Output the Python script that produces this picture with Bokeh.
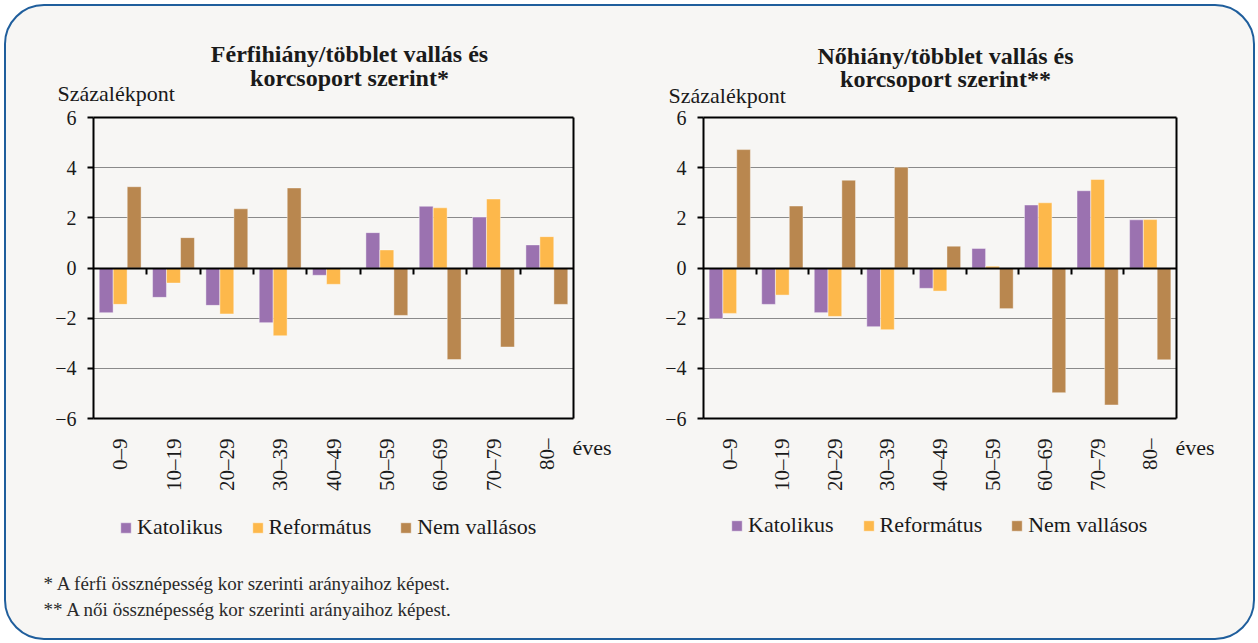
import math
from bokeh.plotting import figure
from bokeh.models import (Range1d, LinearAxis, FixedTicker, Label, Legend, LegendItem, Grid)
from bokeh.layouts import row
from bokeh.embed import file_html
from bokeh.resources import INLINE

# ---------------- data ----------------
categories = ["0–9", "10–19", "20–29", "30–39", "40–49", "50–59", "60–69", "70–79", "80–"]
series_names = ["Katolikus", "Református", "Nem vallásos"]

men_katolikus = [-1.78, -1.17, -1.49, -2.18, -0.29, 1.41, 2.46, 2.03, 0.92]
men_reformatus = [-1.45, -0.60, -1.83, -2.70, -0.65, 0.72, 2.40, 2.75, 1.25]
men_nem_vallasos = [3.24, 1.21, 2.36, 3.19, 0.0, -1.89, -3.65, -3.15, -1.45]

women_katolikus = [-2.02, -1.45, -1.78, -2.34, -0.81, 0.78, 2.51, 3.08, 1.92]
women_reformatus = [-1.81, -1.08, -1.93, -2.46, -0.92, 0.07, 2.60, 3.53, 1.93]
women_nem_vallasos = [4.72, 2.47, 3.50, 4.02, 0.87, -1.62, -4.97, -5.46, -3.66]

y_ticks = [-6, -4, -2, 0, 2, 4, 6]
y_tick_labels = ["−6", "−4", "−2", "0", "2", "4", "6"]
grid_ticks = [-4, -2, 2, 4]

titles_men = ["Férfihiány/többlet vallás és", "korcsoport szerint*"]
titles_women = ["Nőhiány/többlet vallás és", "korcsoport szerint**"]
y_unit = "Százalékpont"
x_unit = "éves"
footnotes = ["* A férfi össznépesség kor szerinti arányaihoz képest.",
             "** A női össznépesség kor szerinti arányaihoz képest."]

# ---------------- style ----------------
COLORS = ["#9b72b0", "#fdb84b", "#b9874f"]
BG = "#f7f6f4"
FONT = "Liberation Serif"
TXT = "#1a1a1a"

ORIGIN = 6      # page position of the figures' top-left corner (margin + border)
FIG_H = 632


def make_chart(series, titles, fig_x0, fig_w, box, title_pos, unit_pos,
               eves_pos, legend_pos, notes=None, notes_pos=None):
    fl, ft, fr, fb = box  # page pixel position of the plot box
    ncat = len(categories)
    ymin, ymax = y_ticks[0], y_ticks[-1]
    sx = (fr - fl) / ncat
    sy = (fb - ft) / (ymax - ymin)

    def d(px, py):
        return (px - fl) / sx, ymax - (py - ft) / sy

    x0, y_top = d(fig_x0, ORIGIN)
    x1, y_bot = d(fig_x0 + fig_w, ORIGIN + FIG_H)

    p = figure(width=fig_w, height=FIG_H, output_backend="svg", toolbar_location=None,
               x_range=Range1d(x0, x1), y_range=Range1d(y_bot, y_top),
               min_border=0, background_fill_color=None, border_fill_color=None,
               outline_line_color=None, x_axis_type=None, y_axis_type=None)

    # grid lines inside the plot box
    p.add_layout(Grid(dimension=1, ticker=FixedTicker(ticks=grid_ticks),
                      cross_bounds=(0, ncat), grid_line_color="#8a8a8a",
                      grid_line_width=1))
    # plot box edges
    p.add_layout(Grid(dimension=1, ticker=FixedTicker(ticks=[ymin, ymax]),
                      cross_bounds=(0, ncat), grid_line_color="black",
                      grid_line_width=2))
    p.add_layout(Grid(dimension=0, ticker=FixedTicker(ticks=[ncat]),
                      cross_bounds=(ymin, ymax), grid_line_color="black",
                      grid_line_width=2))

    # bars
    bw = 0.26
    offs = [-0.2625, 0.0, 0.2625]
    rends = []
    for vals, col, off in zip(series, COLORS, offs):
        xs = [i + 0.5 + off for i in range(ncat)]
        r = p.vbar(x=xs, top=vals, bottom=0, width=bw, fill_color=col,
                   line_color="#ffffff", line_alpha=0.5, line_width=0.8)
        rends.append(r)

    # y axis
    yax = LinearAxis(ticker=FixedTicker(ticks=y_ticks), fixed_location=0,
                     bounds=(ymin, ymax),
                     major_label_overrides={t: l for t, l in zip(y_ticks, y_tick_labels)})
    yax.axis_line_width = 2
    yax.axis_line_color = "black"
    yax.major_tick_line_width = 2
    yax.major_tick_out = 6
    yax.major_tick_in = 0
    yax.minor_tick_line_color = None
    yax.major_label_standoff = 11
    yax.major_label_text_font = FONT
    yax.major_label_text_font_size = "20px"
    yax.major_label_text_color = TXT
    p.add_layout(yax, "left")

    # category labels under the plot box
    xax = LinearAxis(ticker=FixedTicker(ticks=[i + 0.5 for i in range(ncat)]),
                     fixed_location=ymin,
                     major_label_overrides={i + 0.5: c for i, c in enumerate(categories)})
    xax.axis_line_color = None
    xax.major_tick_line_color = None
    xax.minor_tick_line_color = None
    xax.major_label_orientation = math.pi / 2
    xax.major_label_standoff = 14
    xax.major_label_text_font = FONT
    xax.major_label_text_font_size = "21px"
    xax.major_label_text_color = TXT
    p.add_layout(xax, "below")

    # zero line with category boundary ticks
    zax = LinearAxis(ticker=FixedTicker(ticks=list(range(1, ncat))), fixed_location=0,
                     bounds=(0, ncat))
    zax.axis_line_width = 2
    zax.axis_line_color = "black"
    zax.major_tick_line_width = 2
    zax.major_tick_in = 6
    zax.major_tick_out = 0
    zax.minor_tick_line_color = None
    zax.major_label_text_color = None
    zax.major_label_text_font_size = "1px"
    p.add_layout(zax, "above")

    # texts
    for t, (tx, ty) in zip(titles, title_pos):
        x, y = d(tx, ty)
        p.add_layout(Label(x=x, y=y, text=t, text_align="center", text_baseline="alphabetic",
                           text_font=FONT, text_font_size="24px", text_font_style="bold",
                           text_color=TXT))
    x, y = d(*unit_pos)
    p.add_layout(Label(x=x, y=y, text=y_unit, text_align="left", text_baseline="alphabetic",
                       text_font=FONT, text_font_size="22px", text_color=TXT))
    x, y = d(*eves_pos)
    p.add_layout(Label(x=x, y=y, text=x_unit, text_align="left", text_baseline="alphabetic",
                       text_font=FONT, text_font_size="22px", text_color=TXT))
    if notes:
        for t, (nx, ny) in zip(notes, notes_pos):
            x, y = d(nx, ny)
            p.add_layout(Label(x=x, y=y, text=t, text_align="left", text_baseline="alphabetic",
                               text_font=FONT, text_font_size="19px", text_color="#2a2a2a"))

    lx, lcy = legend_pos
    lh = 26
    legend = Legend(items=[LegendItem(label=n, renderers=[r]) for n, r in zip(series_names, rends)],
                    orientation="horizontal",
                    location=(lx - fig_x0, ORIGIN + FIG_H - (lcy + lh / 2)),
                    glyph_width=13, glyph_height=13, label_standoff=5, spacing=28,
                    label_height=lh, padding=0, margin=0, border_line_color=None,
                    background_fill_alpha=0, label_text_font=FONT,
                    label_text_font_size="22px", label_text_color=TXT)
    p.add_layout(legend, "center")
    return p


W1 = 623
W2 = 624
p1 = make_chart([men_katolikus, men_reformatus, men_nem_vallasos], titles_men,
                ORIGIN, W1, (93, 117, 573, 418),
                [(349, 53), (349, 77)], (57, 93), (572, 447), (119, 527),
                footnotes, [(43, 583), (43, 609)])
p2 = make_chart([women_katolikus, women_reformatus, women_nem_vallasos], titles_women,
                ORIGIN + W1, W2, (703, 117, 1176, 418),
                [(945, 55), (945, 78)], (668, 95), (1175, 447), (730, 525))

layout = row(p1, p2, spacing=0,
             styles={"border": "2px solid #1f5e9c", "border-radius": "40px",
                     "background-color": BG, "overflow": "hidden",
                     "margin": "4px 0 0 4px"})

open("out.html", "w").write(file_html(layout, INLINE))
